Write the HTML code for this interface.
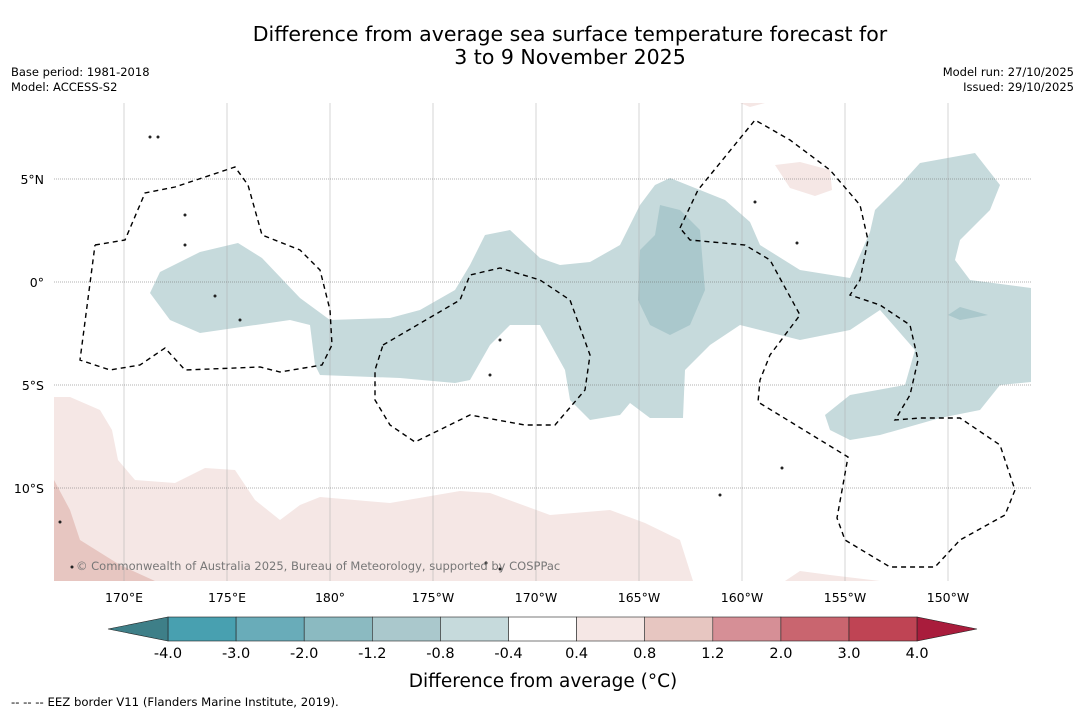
<!DOCTYPE html>
<html><head><meta charset="utf-8"><style>
body{margin:0;background:#fff;font-family:"DejaVu Sans",sans-serif;}
svg{display:block;font-family:"DejaVu Sans",sans-serif;}
</style></head><body>
<svg id="s" width="1085" height="713" viewBox="0 0 1085 713">
<text x="570" y="41" font-size="20.5" text-anchor="middle">Difference from average sea surface temperature forecast for</text>
<text x="570" y="64" font-size="20.5" text-anchor="middle">3 to 9 November 2025</text>
<text x="11" y="76" font-size="11.5">Base period: 1981-2018</text>
<text x="11" y="91" font-size="11.5">Model: ACCESS-S2</text>
<text x="1074" y="76" font-size="11.5" text-anchor="end">Model run: 27/10/2025</text>
<text x="1074" y="91" font-size="11.5" text-anchor="end">Issued: 29/10/2025</text>
<g id="map"></g>
<g id="cb"></g>
<text x="543" y="687" font-size="18.5" text-anchor="middle">Difference from average (°C)</text>
<text x="11" y="706" font-size="11.7">-- -- -- EEZ border V11 (Flanders Marine Institute, 2019).</text>
</svg>
<script>
const NS="http://www.w3.org/2000/svg";
const lonTicks=[170,175,180,185,190,195,200,205,210];
const lonLabels=["170°E","175°E","180°","175°W","170°W","165°W","160°W","155°W","150°W"];
const latTicks=[5,0,-5,-10];
const latLabels=["5°N","0°","5°S","10°S"];
const levels=["-4.0","-3.0","-2.0","-1.2","-0.8","-0.4","0.4","0.8","1.2","2.0","3.0","4.0"];
const colors=["#48a0b0","#69acb9","#8bbac1","#aac8cc","#c6dadc","#ffffff","#f5e7e5","#e7c6c1","#d68f96","#c9656f","#bf4454"];
const xL=lon=>124+(lon-170)*20.6, yL=lat=>282-lat*20.6;
const X0=54,X1=1031,Y0=103,Y1=581;
const map=document.getElementById('map');
function mk(t,a,p){const e=document.createElementNS(NS,t);for(const k in a)e.setAttribute(k,a[k]);(p||map).appendChild(e);return e;}
function pts(a){return a.map(p=>p.join(',')).join(' ');}
const tealLight=[[150,293],[160,272],[200,252],[238,243],[262,258],[300,298],[330,320],[390,318],[420,310],[455,290],[470,265],[485,235],[510,230],[540,258],[560,265],[590,262],[620,245],[640,205],[655,185],[670,178],[700,190],[725,200],[750,222],[760,245],[800,270],[850,278],[870,232],[875,210],[900,185],[920,163],[975,153],[1000,185],[990,210],[960,240],[955,260],[970,280],[1031,288],[1031,382],[1000,385],[980,410],[940,418],[880,435],[850,440],[830,430],[825,415],[850,395],[905,385],[915,350],[880,310],[850,330],[800,340],[740,325],[710,345],[685,370],[683,418],[650,418],[630,403],[620,415],[590,420],[570,400],[565,370],[540,325],[510,325],[490,345],[470,380],[455,383],[400,378],[320,375],[315,365],[310,325],[290,320],[200,333],[170,320]];
const tealDark=[[640,250],[655,235],[660,205],[680,210],[700,230],[705,290],[690,325],[670,335],[650,325],[638,300]];
const tealDark2=[[948,315],[960,307],[988,315],[960,320]];
const pink1=[[54,397],[70,397],[100,410],[112,430],[118,460],[135,480],[175,483],[205,468],[235,470],[255,500],[280,520],[300,505],[320,497],[390,503],[460,491],[490,493],[550,515],[610,510],[645,523],[680,540],[693,581],[54,581]];
const pink2=[[54,480],[70,510],[80,540],[120,565],[155,581],[54,581]];
const pink3=[[785,581],[800,571],[830,575],[880,581]];
const pink4=[[775,165],[800,162],[830,170],[832,190],[815,196],[790,188]];
const pink5=[[740,103],[765,103],[750,107]];
const eez1=[[95,245],[125,240],[145,193],[175,187],[235,167],[248,185],[262,235],[300,250],[320,270],[330,310],[332,345],[322,365],[280,372],[260,367],[185,370],[165,348],[140,365],[110,370],[80,360],[95,245]];
const eez2=[[383,345],[460,300],[470,275],[500,268],[540,280],[570,300],[590,355],[585,390],[555,425],[525,425],[470,415],[415,442],[390,425],[375,400],[375,370],[383,345]];
const eez3=[[680,228],[698,190],[755,120],[790,140],[830,170],[860,205],[868,240],[860,280],[850,295],[880,305],[910,325],[918,360],[910,395],[895,420],[920,418],[960,418],[1000,445],[1015,490],[1005,515],[960,540],[935,567],[890,567],[845,540],[837,518],[848,457],[758,402],[760,380],[770,355],[800,315],[770,260],[745,245],[690,240],[680,228]];
mk('polygon',{points:pts(tealLight),fill:colors[4]});
mk('polygon',{points:pts(tealDark),fill:colors[3]});
mk('polygon',{points:pts(tealDark2),fill:colors[3]});
[pink1,pink3,pink4,pink5].forEach(p=>{const e=mk('polygon',{points:pts(p),fill:colors[6]});});
mk('polygon',{points:pts(pink2),fill:colors[7]});
lonTicks.forEach((l,i)=>{const x=xL(l);
 const g=mk('line',{x1:x,x2:x,y1:Y0,y2:Y1,stroke:'#aaa','stroke-width':0.5});
 const t=mk('text',{x:x,y:602,'font-size':12.5,'text-anchor':'middle'});t.textContent=lonLabels[i];});
latTicks.forEach((l,i)=>{const y=yL(l);
 const g=mk('line',{x1:X0,x2:X1,y1:y,y2:y,stroke:'#666','stroke-width':0.6,'stroke-dasharray':'1,1'});
 const t=mk('text',{x:44,y:y+5,'font-size':12.5,'text-anchor':'end'});t.textContent=latLabels[i];});
[eez1,eez2,eez3].forEach(p=>{const e=mk('polyline',{points:pts(p),fill:'none',stroke:'#000','stroke-width':1.4,'stroke-dasharray':'5,4'});});
[[150,137],[158,137],[185,215],[185,245],[215,296],[240,320],[500,340],[490,375],[720,495],[755,202],[797,243],[782,468],[486,563],[500,569],[72,567],[60,522]].forEach(p=>{const e=mk('circle',{cx:p[0],cy:p[1],r:1.5,fill:'#222'});});
const cr=mk('text',{x:76,y:570,'font-size':11.5,fill:'#777'});cr.textContent='© Commonwealth of Australia 2025, Bureau of Meteorology, supported by COSPPac';
const cb=document.getElementById('cb');const bx0=168,bw=68.1,by=617,bh=24;
colors.forEach((c,i)=>{const r=mk('rect',{x:bx0+i*bw,y:by,width:bw,height:bh,fill:c,stroke:'#222','stroke-width':0.6},cb);});
const lt=mk('polygon',{points:`${bx0},${by} ${bx0},${by+bh} 108,${by+bh/2}`,fill:'#3e7f88',stroke:'#222','stroke-width':0.6},cb);
const xe=bx0+colors.length*bw;
const rt=mk('polygon',{points:`${xe},${by} ${xe},${by+bh} 977,${by+bh/2}`,fill:'#a91c3c',stroke:'#222','stroke-width':0.6},cb);
levels.forEach((v,i)=>{const t=mk('text',{x:bx0+i*bw,y:658,'font-size':14.5,'text-anchor':'middle'},cb);t.textContent=v;});
</script>
</body></html>
